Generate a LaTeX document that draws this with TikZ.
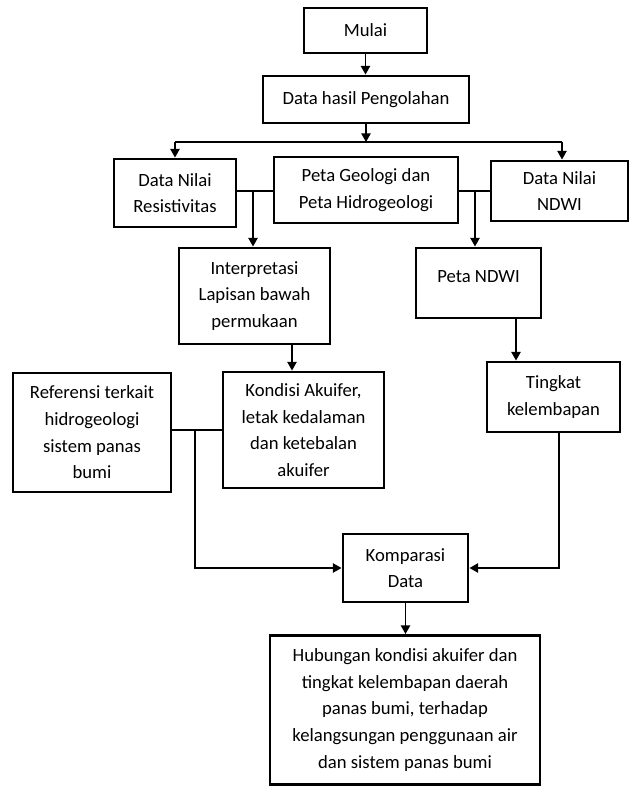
\documentclass[tikz,border=0pt]{standalone}
\usepackage{fontspec}
\setmainfont{Carlito}
\usetikzlibrary{arrows.meta,positioning,calc}

\begin{document}
\begin{tikzpicture}[
  x=0.75pt, y=-0.75pt,
  B/.style = {draw=black, line width=2.2pt, align=center, inner sep=0pt,
              font=\fontsize{14}{20}\selectfont},
  arr/.style = {-{Triangle[length=6.5pt,width=7pt]}, line width=1.1pt},
  ln/.style = {line width=1.1pt}
]
\useasboundingbox (0,0) rectangle (630,787);

% Top: start and processed data
\node[B, minimum width=92.25pt, minimum height=33.75pt] (mulai) at (365.5, 30.5) {Mulai};
\node[B, minimum width=154.5pt, minimum height=35.25pt] (hasil) at (366, 99.5) {Data hasil Pengolahan};

% Row 2: three data sources
\node[B, minimum width=91.5pt, minimum height=51pt]    (resist) at (175, 193)   {Data Nilai\\Resistivitas};
\node[B, minimum width=138pt, minimum height=49.5pt]   (peta)   at (366, 190)   {Peta Geologi dan\\Peta Hidrogeologi};
\node[B, minimum width=102.75pt, minimum height=45pt]  (ndwi)   at (559.5, 191) {Data Nilai\\NDWI};

% Row 3
\node[B, minimum width=113.25pt, minimum height=72pt]  (interp)   at (254.5, 296) {Interpretasi\\Lapisan bawah\\permukaan};
\node[B, minimum width=93.75pt, minimum height=52.5pt] (petandwi) at (478.5, 283) {\raisebox{9pt}{Peta NDWI}};

% Row 4
\node[B, minimum width=118.5pt, minimum height=89.25pt] (ref)     at (92, 432.5)  {Referensi terkait\\hidrogeologi\\sistem panas\\bumi};
\node[B, minimum width=120.75pt, minimum height=87pt]   (kondisi) at (303.5, 430) {Kondisi Akuifer,\\letak kedalaman\\dan ketebalan\\akuifer};
\node[B, minimum width=99.75pt, minimum height=52.5pt]  (tingkat) at (553.5, 397) {Tingkat\\kelembapan};

% Bottom: comparison and result
\node[B, minimum width=93.75pt, minimum height=51pt]    (komp) at (405.5, 568) {Komparasi\\Data};
\node[B, minimum width=202.5pt, minimum height=111.75pt] (hub) at (405, 710)  {Hubungan kondisi akuifer dan\\tingkat kelembapan daerah\\panas bumi, terhadap\\kelangsungan penggunaan air\\dan sistem panas bumi};

% junctions and bends
\coordinate (br) at (366, 142);
\coordinate (bL) at (175, 142);
\coordinate (bR) at (562, 142);
\coordinate (jL) at (253, 191);
\coordinate (jR) at (475, 191);
\coordinate (aI) at (292, 0);
\coordinate (aN) at (516, 0);
\coordinate (aT) at (559, 0);
\coordinate (jK) at (195, 430);

% Split after processing
\draw[arr] (mulai.south) -- (mulai.south |- hasil.north);
\draw[arr] (hasil.south) -- (br);
\draw[ln]  (bL) -- (bR);
\draw[arr] (bL) -- (bL |- resist.north);
\draw[arr] (bR) -- (bR |- ndwi.north);

% Left branch
\draw[ln]  (resist.east |- jL) -- (peta.west |- jL);
\draw[arr] (jL) -- (jL |- interp.north);
\draw[arr] (aI |- interp.south) -- (aI |- kondisi.north);
\draw[ln]  (ref.east |- jK) -- (kondisi.west |- jK);
\draw[arr] (jK) |- (komp.west);

% Right branch
\draw[ln]  (peta.east |- jR) -- (ndwi.west |- jR);
\draw[arr] (jR) -- (jR |- petandwi.north);
\draw[arr] (aN |- petandwi.south) -- (aN |- tingkat.north);
\draw[arr] (aT |- tingkat.south) |- (komp.east);

% Result
\draw[arr] (komp.south) -- (komp.south |- hub.north);

\end{tikzpicture}
\end{document}
